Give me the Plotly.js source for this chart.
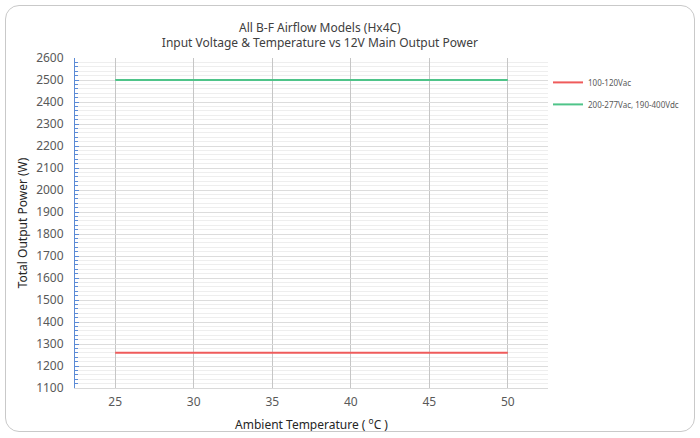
<!DOCTYPE html>
<html><head><meta charset="utf-8">
<script src="https://cdn.plot.ly/plotly-3.0.1.min.js"></script>
<style>
html,body{margin:0;padding:0;background:#fff;}
#wrap{position:relative;width:700px;height:438px;}
#frame{position:absolute;left:5px;top:5px;width:688px;height:425px;border:1px solid #c9c9c9;border-radius:14px;pointer-events:none;}
#chart{position:absolute;left:0;top:0;width:700px;height:438px;}
</style></head>
<body>
<div id="wrap"><div id="chart"></div><div id="frame"></div></div>
<script>
const temperatures = [25, 30, 35, 40, 45, 50];
const power_100_120Vac = [1260, 1260, 1260, 1260, 1260, 1260];
const power_200_277Vac = [2500, 2500, 2500, 2500, 2500, 2500];
const seriesNames = ["100-120Vac", "200-277Vac, 190-400Vdc"];
const yTicks = [1100,1200,1300,1400,1500,1600,1700,1800,1900,2000,2100,2200,2300,2400,2500,2600];
const xTicks = [25, 30, 35, 40, 45, 50];

const font = "Noto Sans, Open Sans, sans-serif";
const traces = [
  {x: temperatures, y: power_100_120Vac, name: seriesNames[0], mode: "lines", legendgroup: "a",
   line: {color: "#ef5b5b", width: 2}},
  {x: temperatures, y: power_200_277Vac, name: seriesNames[1], mode: "lines", legendgroup: "b",
   line: {color: "#4fc489", width: 2}}
];
const layout = {
  width: 700, height: 438,
  margin: {l: 75, r: 152, t: 58, b: 50},
  paper_bgcolor: "rgba(0,0,0,0)", plot_bgcolor: "#fff",
  title: {text: "All B-F Airflow Models (Hx4C)<br>Input Voltage & Temperature vs 12V Main Output Power",
          font: {family: font, size: 12, color: "#404040"}, x: 0.457, xanchor: "center",
          yref: "container", y: 0.928, yanchor: "top"},
  xaxis: {range: [22.44, 52.56], tickvals: xTicks, ticktext: xTicks.map(String),
          showgrid: true, gridcolor: "#c6c6c6", gridwidth: 1, zeroline: false,
          showline: true, linecolor: "#d9d9d9", linewidth: 1, ticks: "", ticklabelstandoff: 3,
          tickfont: {family: font, size: 12, color: "#595959"},
          title: {text: "Ambient Temperature ( <sup>o</sup>C )", font: {family: font, size: 12, color: "#262626"}, standoff: 11}},
  yaxis: {range: [1100, 2600], tickvals: yTicks, ticktext: yTicks.map(String),
          showgrid: true, gridcolor: "#dcdcdc", gridwidth: 1, zeroline: false,
          showline: true, linecolor: "#5b8bd6", linewidth: 1,
          ticks: "inside", ticklen: 4, tickcolor: "#5b8bd6", ticklabelstandoff: 8,
          minor: {dtick: 20, showgrid: true, gridcolor: "#eeeeee", ticks: "inside", ticklen: 3, tickcolor: "#5b8bd6"},
          tickfont: {family: font, size: 12, color: "#595959"},
          title: {text: "Total Output Power (W)", font: {family: font, size: 12, color: "#262626"}, standoff: 5}},
  legend: {x: 1.0, xanchor: "left", y: 0.97, yanchor: "top", bgcolor: "rgba(0,0,0,0)",
           font: {family: font, size: 8, color: "#595959"}, tracegroupgap: 3, traceorder: "grouped"},
  showlegend: true
};
Plotly.newPlot("chart", traces, layout, {displayModeBar: false, staticPlot: true});
</script>
</body></html>
